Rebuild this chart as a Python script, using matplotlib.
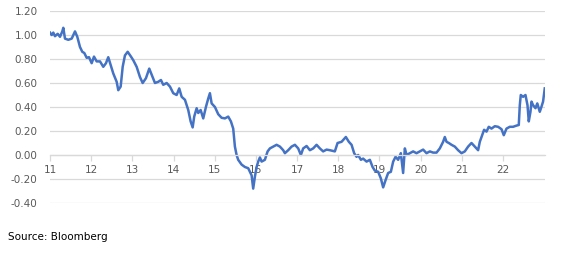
import matplotlib
matplotlib.use("Agg")
import matplotlib.pyplot as plt

# decimal year (11 = 2011) and spread value
years = [11.000, 11.041, 11.080, 11.121, 11.187, 11.243, 11.299, 11.323, 11.364, 11.444,
         11.527, 11.607, 11.663, 11.728, 11.784, 11.833, 11.891, 11.947, 12.012, 12.068,
         12.133, 12.214, 12.294, 12.359, 12.415, 12.473, 12.536, 12.619, 12.658, 12.716,
         12.765, 12.820, 12.886, 12.966, 13.022, 13.104, 13.184, 13.250, 13.330, 13.410,
         13.468, 13.549, 13.629, 13.694, 13.750, 13.833, 13.913, 13.993, 14.075, 14.138,
         14.197, 14.277, 14.357, 14.415, 14.464, 14.502, 14.561, 14.600, 14.658, 14.721,
         14.786, 14.842, 14.883, 14.925, 15.005, 15.085, 15.167, 15.248, 15.328, 15.393,
         15.449, 15.490, 15.531, 15.570, 15.653, 15.733, 15.813, 15.854, 15.896, 15.934,
         15.976, 16.017, 16.056, 16.097, 16.138, 16.218, 16.284, 16.340, 16.420, 16.502,
         16.583, 16.663, 16.704, 16.784, 16.866, 16.947, 17.027, 17.092, 17.148, 17.231,
         17.311, 17.391, 17.473, 17.553, 17.633, 17.716, 17.796, 17.917, 17.983, 18.080,
         18.184, 18.257, 18.323, 18.386, 18.444, 18.483, 18.549, 18.604, 18.687, 18.767,
         18.833, 18.888, 18.969, 19.034, 19.090, 19.148, 19.211, 19.277, 19.333, 19.391,
         19.454, 19.519, 19.575, 19.617, 19.658, 19.738, 19.818, 19.900, 19.981, 20.061,
         20.143, 20.223, 20.303, 20.386, 20.466, 20.546, 20.587, 20.629, 20.684, 20.750,
         20.830, 20.910, 20.993, 21.073, 21.153, 21.235, 21.316, 21.396, 21.437, 21.493,
         21.541, 21.600, 21.655, 21.721, 21.801, 21.881, 21.964, 22.019, 22.085, 22.165,
         22.245, 22.328, 22.383, 22.408, 22.432, 22.488, 22.546, 22.595, 22.626, 22.667,
         22.692, 22.731, 22.789, 22.833, 22.893, 22.932, 22.973, 23.014]
values = [1.02, 1.00, 1.02, 0.99, 1.01, 0.985, 1.03, 1.06, 0.97, 0.96,
          0.97, 1.03, 0.985, 0.90, 0.86, 0.85, 0.81, 0.815, 0.765, 0.82,
          0.78, 0.78, 0.735, 0.765, 0.815, 0.75, 0.68, 0.61, 0.54, 0.57,
          0.735, 0.83, 0.86, 0.82, 0.79, 0.735, 0.65, 0.60, 0.64, 0.72,
          0.67, 0.60, 0.61, 0.625, 0.585, 0.60, 0.57, 0.515, 0.50, 0.555,
          0.485, 0.46, 0.375, 0.28, 0.23, 0.32, 0.39, 0.35, 0.375, 0.305,
          0.40, 0.47, 0.515, 0.43, 0.40, 0.34, 0.31, 0.305, 0.32, 0.28,
          0.22, 0.07, 0.0, -0.04, -0.08, -0.10, -0.11, -0.14, -0.17, -0.28,
          -0.18, -0.10, -0.055, -0.02, -0.055, -0.04, 0.03, 0.055, 0.07, 0.085,
          0.07, 0.04, 0.015, 0.04, 0.07, 0.085, 0.055, 0.0, 0.055, 0.075,
          0.04, 0.055, 0.085, 0.055, 0.03, 0.045, 0.04, 0.03, 0.10, 0.11,
          0.15, 0.11, 0.085, 0.015, -0.015, 0.0, -0.04, -0.03, -0.055, -0.04,
          -0.10, -0.13, -0.14, -0.195, -0.27, -0.21, -0.15, -0.14, -0.055, -0.015,
          -0.04, 0.015, -0.15, 0.055, 0.0, 0.015, 0.03, 0.015, 0.03, 0.045,
          0.015, 0.03, 0.02, 0.02, 0.055, 0.11, 0.15, 0.11, 0.10, 0.085,
          0.07, 0.04, 0.015, 0.03, 0.07, 0.10, 0.07, 0.04, 0.11, 0.165,
          0.21, 0.195, 0.235, 0.22, 0.24, 0.235, 0.215, 0.165, 0.22, 0.235,
          0.235, 0.245, 0.25, 0.415, 0.50, 0.485, 0.50, 0.415, 0.28, 0.36,
          0.445, 0.415, 0.39, 0.43, 0.36, 0.40, 0.445, 0.555]

x_ticks = list(range(11, 23))
y_ticks = [-0.4, -0.2, 0.0, 0.2, 0.4, 0.6, 0.8, 1.0, 1.2]

fig = plt.figure(figsize=(5.68, 2.56), dpi=100)
ax = fig.add_axes([50 / 568, 1 - 203 / 256, 495 / 568, 192 / 256])

ax.plot(years, values, color='#4472C4', linewidth=1.8, solid_joinstyle='round')

ax.set_xlim(11, 23.02)
ax.set_ylim(-0.4, 1.2)
ax.set_yticks(y_ticks)
ax.set_yticklabels(['%.2f' % v for v in y_ticks])
ax.set_xticks(x_ticks)
ax.set_xticklabels([str(t) for t in x_ticks])

ax.yaxis.grid(True, color='#D9D9D9', linewidth=0.9)
ax.set_axisbelow(True)
for s in ['top', 'right', 'left']:
    ax.spines[s].set_visible(False)
ax.spines['bottom'].set_position(('data', 0))
ax.spines['bottom'].set_color('#D9D9D9')
ax.spines['bottom'].set_linewidth(0.9)

ax.tick_params(axis='y', length=0, pad=9, labelsize=7.5, labelcolor='#595959')
ax.tick_params(axis='x', length=4, width=0.9, color='#D9D9D9', pad=3,
               labelsize=7.5, labelcolor='#595959')

fig.text(8 / 568, 1 - 237 / 256, 'Source: Bloomberg', fontsize=7.5, color='black',
         ha='left', va='center')

fig.savefig('out.png', dpi=100)
